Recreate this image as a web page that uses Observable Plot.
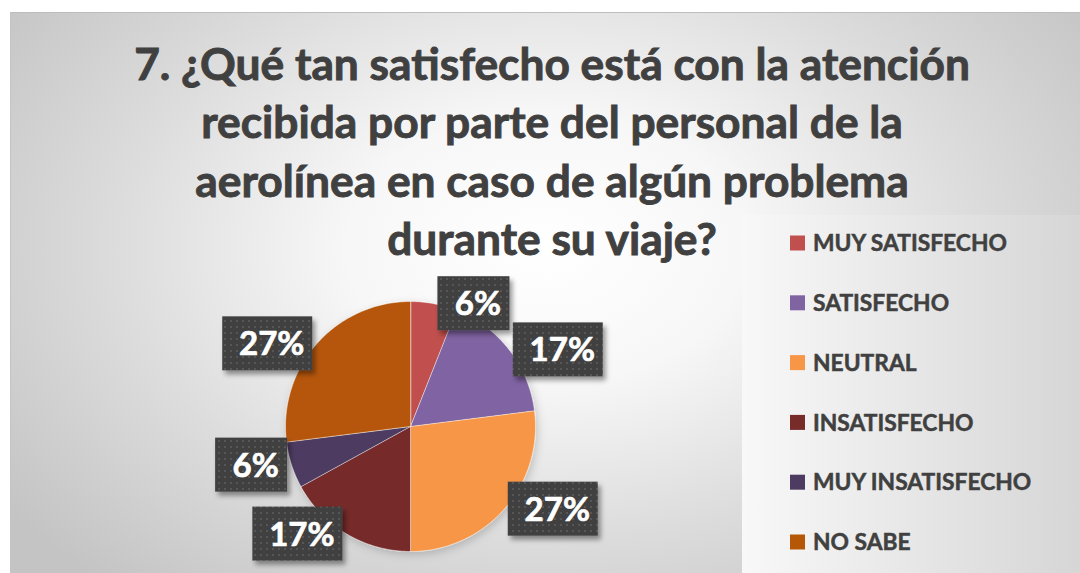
<!DOCTYPE html>
<html><head><meta charset="utf-8">
<script src="https://cdn.jsdelivr.net/npm/d3@7"></script>
<script src="https://cdn.jsdelivr.net/npm/@observablehq/plot@0.6"></script>
<style>
html,body{margin:0;padding:0;background:#fff;width:1080px;height:573px;overflow:hidden;}
#bg{position:absolute;left:10px;top:12px;width:1070px;height:561px;border-top:1px solid #bdbdbd;border-left:1px solid #c4c4c4;box-sizing:border-box;
 background:radial-gradient(ellipse 62% 80% at 50% 42%, #ffffff 0%, #f7f7f7 30%, #dcdcdc 65%, #c4c4c4 100%);}
#legbox{position:absolute;left:742px;top:215px;width:338px;height:358px;background:linear-gradient(to right,#f8f8f8,#d6d6d6);}
#chart{position:absolute;left:0;top:0;}
#overlay{position:absolute;left:0;top:0;pointer-events:none;}
</style></head><body>
<div id="bg"></div>
<div id="legbox"></div>
<div id="chart"></div>
<svg id="overlay" width="1080" height="573"></svg>
<script>
// ---- data ----
const categories = ["MUY SATISFECHO", "SATISFECHO", "NEUTRAL", "INSATISFECHO", "MUY INSATISFECHO", "NO SABE"];
const percents = [6, 17, 27, 17, 6, 27];
const colors = ["#c0504d", "#8064a2", "#f79646", "#772c2a", "#4d3b62", "#b65708"];
const titleLines = [
  "7. ¿Qué tan satisfecho está con la atención",
  "recibida por parte del personal de la",
  "aerolínea en caso de algún problema",
  "durante su viaje?"
];

// ---- layout ----
const W = 1080, H = 573;
const CX = 410, CY = 426, R = 125;   // pie centre & radius in px
const textColor = "#404040";
const FONT = "Lato, 'Open Sans', sans-serif";

// build slice polygons
const total = d3.sum(percents);
const points = [];
const labels = [];
let cum = 0;
categories.forEach((cat, i) => {
  const a0 = 2 * Math.PI * cum / total;
  cum += percents[i];
  const a1 = 2 * Math.PI * cum / total;
  points.push({cat, x: 0, y: 0});
  const n = Math.max(2, Math.ceil((a1 - a0) * 180 / Math.PI));
  for (let k = 0; k <= n; k++) {
    const a = a0 + (a1 - a0) * k / n;
    points.push({cat, x: Math.sin(a), y: Math.cos(a)});
  }
  const am = (a0 + a1) / 2;
  const ux = Math.sin(am), uy = Math.cos(am);
  const text = percents[i] + "%";
  const wpx = 36 + 18 * text.length, hpx = 54;
  const cxp = R * ux + Math.sign(ux) * (wpx / 2 + 4);
  const cyp = R * uy;
  labels.push({
    cat, text,
    cx: cxp / R, cy: cyp / R,
    x1: (cxp - wpx / 2) / R, x2: (cxp + wpx / 2) / R,
    y1: (cyp - hpx / 2) / R, y2: (cyp + hpx / 2) / R
  });
});

const plot = Plot.plot({
  width: W, height: H,
  margin: 0,
  style: {background: "transparent", overflow: "visible"},
  x: {domain: [-CX / R, (W - CX) / R], axis: null},
  y: {domain: [-(H - CY) / R, CY / R], axis: null},
  color: {domain: categories, range: colors},
  marks: [
    Plot.line(points, {x: "x", y: "y", z: "cat", fill: "cat", stroke: "#ffffff", strokeOpacity: 0.6, strokeWidth: 0.8, curve: "linear-closed"}),
    Plot.rect(labels, {x1: "x1", x2: "x2", y1: "y1", y2: "y2", fill: "url(#dots)"}),
    Plot.text(labels, {x: "cx", y: "cy", text: "text", fill: "white", stroke: "white", strokeWidth: 0.7, fontSize: 33, fontWeight: "bold", fontFamily: FONT, dx: 4, dy: 1})
  ]
});
document.getElementById("chart").appendChild(plot);

const svg = d3.select(plot);
const defs = svg.insert("defs", ":first-child");
const pat = defs.append("pattern").attr("id", "dots").attr("width", 6).attr("height", 6).attr("patternUnits", "userSpaceOnUse");
pat.append("rect").attr("width", 6).attr("height", 6).attr("fill", "#404040");
pat.append("rect").attr("x", 2).attr("y", 2).attr("width", 2).attr("height", 2).attr("fill", "#575757");
const f = defs.append("filter").attr("id", "shadow").attr("x", "-20%").attr("y", "-20%").attr("width", "150%").attr("height", "160%");
f.append("feDropShadow").attr("dx", 3).attr("dy", 4).attr("stdDeviation", 2.5).attr("flood-color", "#000").attr("flood-opacity", 0.4);
const f2 = defs.append("filter").attr("id", "pieshadow").attr("x", "-20%").attr("y", "-20%").attr("width", "150%").attr("height", "150%");
f2.append("feDropShadow").attr("dx", 2).attr("dy", 3).attr("stdDeviation", 4).attr("flood-color", "#000").attr("flood-opacity", 0.18);
svg.selectAll('g[aria-label="rect"]').attr("filter", "url(#shadow)");
svg.selectAll('g[aria-label="line"]').attr("filter", "url(#pieshadow)");

// ---- title & legend (overlay) ----
const ov = d3.select("#overlay");
const baselines = [80, 138, 197, 255];
const tGroup = ov.append("g");
const tEls = titleLines.map((t, i) => tGroup.append("text")
  .attr("x", 552).attr("y", baselines[i]).attr("text-anchor", "middle")
  .attr("font-family", FONT).attr("font-weight", "bold").attr("font-size", 40)
  .attr("fill", textColor).attr("stroke", textColor).attr("stroke-width", 0.9)
  .attr("paint-order", "stroke").text(t));
const len0 = tEls[0].node().getComputedTextLength();
if (len0 > 0) {
  const fs = 40 * 836 / len0;
  tEls.forEach(e => e.attr("font-size", fs));
}

const legY0 = 243, legStep = 59.8;
const legTexts = [];
categories.forEach((cat, i) => {
  const y = legY0 + i * legStep;
  ov.append("rect").attr("x", 790).attr("y", y - 7.5).attr("width", 15).attr("height", 15).attr("fill", colors[i]);
  legTexts.push(ov.append("text").attr("x", 813).attr("y", y).attr("dy", "0.36em")
    .attr("font-family", FONT).attr("font-weight", "bold").attr("font-size", 21)
    .attr("fill", textColor).attr("stroke", textColor).attr("stroke-width", 0.5)
    .attr("paint-order", "stroke").text(cat));
});
const l0 = legTexts[0].node().getComputedTextLength();
if (l0 > 0) {
  const fs = 21 * 194 / l0;
  legTexts.forEach(e => e.attr("font-size", fs));
}
</script>
</body></html>
